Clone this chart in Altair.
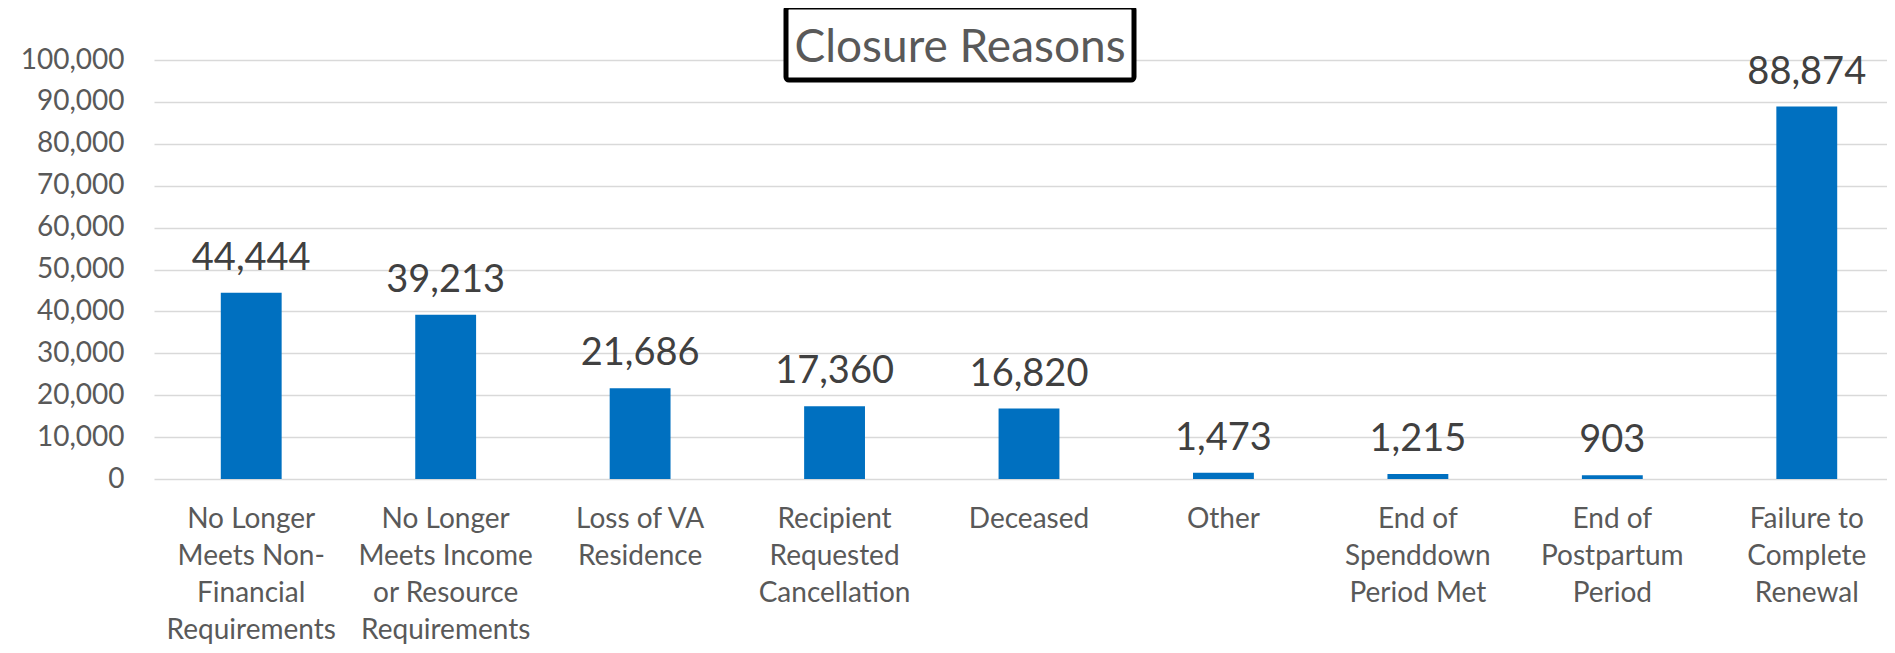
import altair as alt
import pandas as pd

categories = [
    "No Longer|Meets Non-|Financial|Requirements",
    "No Longer|Meets Income|or Resource|Requirements",
    "Loss of VA|Residence",
    "Recipient|Requested|Cancellation",
    "Deceased",
    "Other",
    "End of|Spenddown|Period Met",
    "End of|Postpartum|Period",
    "Failure to|Complete|Renewal",
]
values = [44444, 39213, 21686, 17360, 16820, 1473, 1215, 903, 88874]
y_ticks = [0, 10000, 20000, 30000, 40000, 50000, 60000, 70000, 80000, 90000, 100000]
title_text = "Closure Reasons"

df = pd.DataFrame({"reason": categories, "count": values})
tdf = pd.DataFrame({"t": [title_text]})

FONT = "Lato"
W, H = 1733, 419

x_enc = alt.X(
    "reason:N",
    sort=categories,
    scale=alt.Scale(range=[0, 1750], paddingInner=0.687, paddingOuter=0.3435),
    axis=alt.Axis(
        title=None, labelAngle=0, labelExpr="split(datum.value, '|')",
        labelFontSize=28, labelFont=FONT, labelColor="#595959",
        labelPadding=26, labelLineHeight=37, ticks=False, domain=False,
        grid=False, labelBaseline="top", labelOverlap=False, labelLimit=400,
    ),
)
y_enc = alt.Y(
    "count:Q",
    scale=alt.Scale(domain=[0, 100000]),
    axis=alt.Axis(
        title=None, values=y_ticks, format=",.0f", labelFontSize=28, labelFont=FONT,
        labelColor="#595959", labelPadding=30, ticks=False, domain=False,
        gridColor="#D9D9D9", gridWidth=1.5,
    ),
)

bars = alt.Chart(df).mark_bar(color="#0070C0").encode(x=x_enc, y=y_enc)
labels = alt.Chart(df).mark_text(
    dy=-23, baseline="alphabetic", fontSize=38, font=FONT, color="#404040"
).encode(x=x_enc, y=y_enc, text=alt.Text("count:Q", format=","))

box = alt.Chart(tdf).mark_rect(
    fill="white", stroke="black", strokeWidth=5, cornerRadius=3
).encode(x=alt.value(632), x2=alt.value(980), y=alt.value(-53), y2=alt.value(20))
ttl = alt.Chart(tdf).mark_text(
    fontSize=46, font=FONT, color="#595959", baseline="alphabetic", align="center"
).encode(x=alt.value(806), y=alt.value(2), text="t:N")

chart = alt.layer(bars, labels, box, ttl).properties(
    width=W, height=H,
    padding={"left": 146, "top": 52, "right": 0, "bottom": 166},
    autosize=alt.AutoSizeParams(type="none"),
    background="white",
).configure_view(stroke=None)

chart.save("out.html", embed_options={"renderer": "svg", "actions": False})
